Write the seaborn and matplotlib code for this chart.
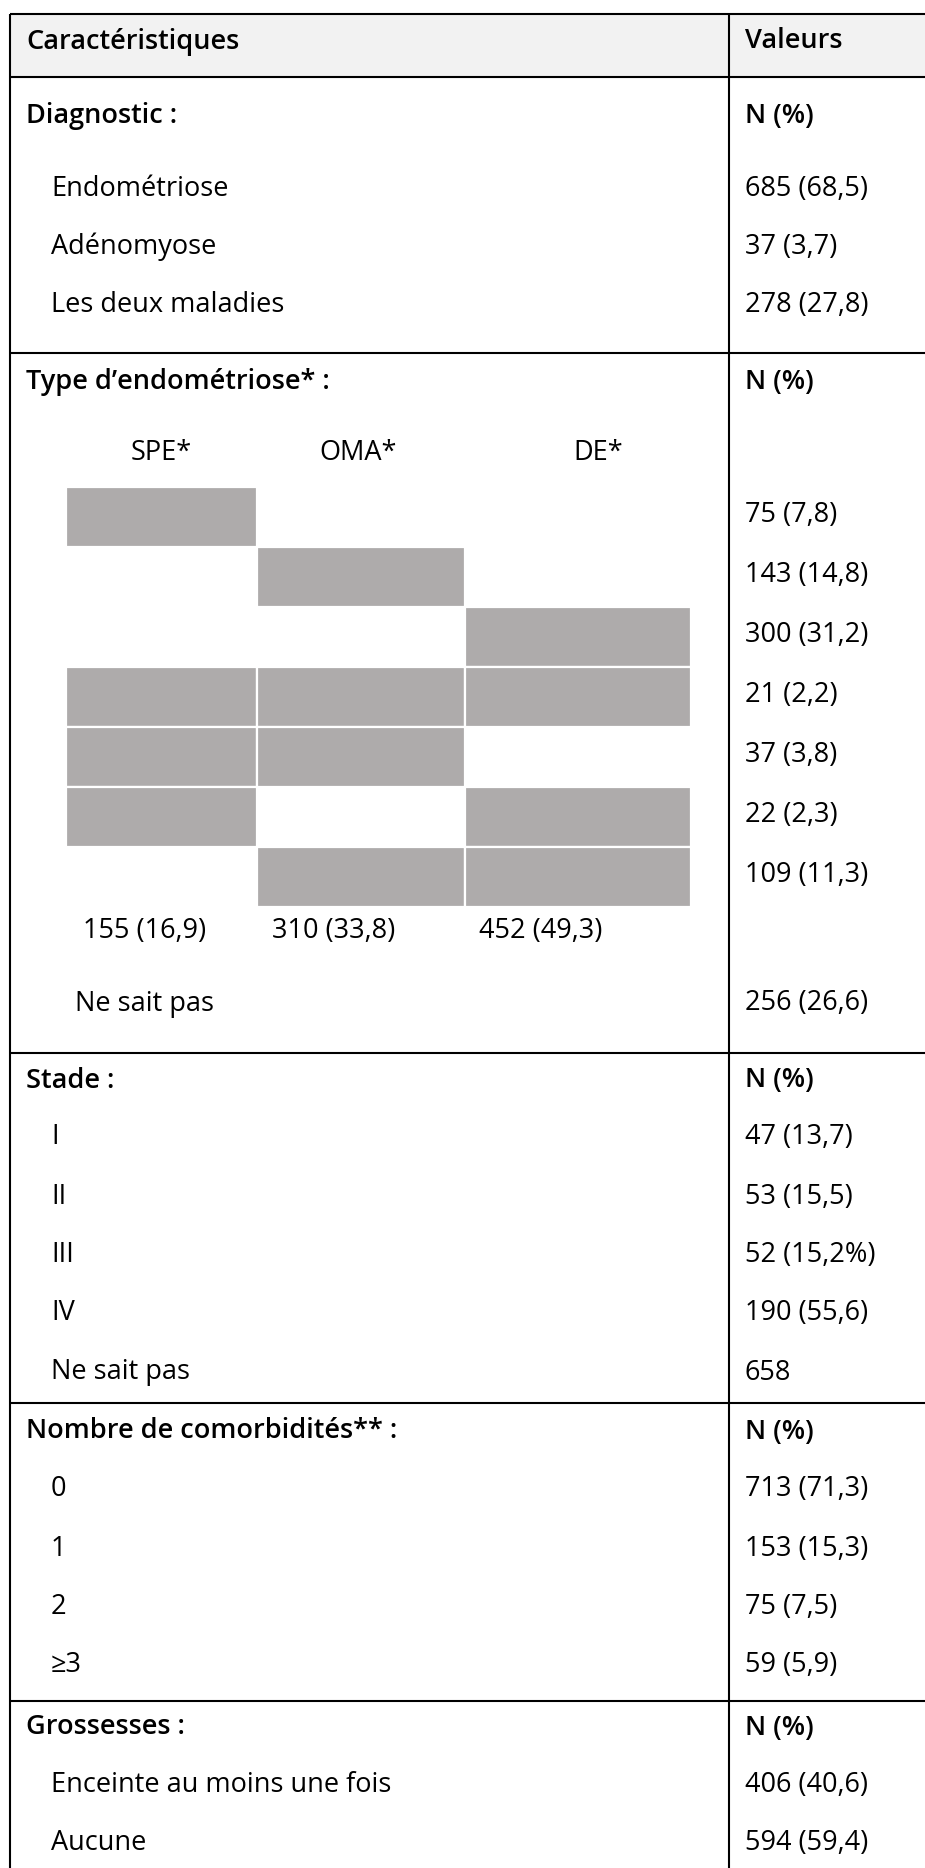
import matplotlib
matplotlib.use("Agg")
import matplotlib.pyplot as plt
import seaborn as sns
import numpy as np

# ---------------- data ----------------
header_left = "Caractéristiques"
header_right = "Valeurs"
unit_label = "N (%)"

diag_title = "Diagnostic :"
diag_labels = ["Endométriose", "Adénomyose", "Les deux maladies"]
diag_values = ["685 (68,5)", "37 (3,7)", "278 (27,8)"]

type_title = "Type d\u2019endométriose* :"
type_names = ["SPE*", "OMA*", "DE*"]
# membership of each combination row (SPE, OMA, DE)
combo_membership = [
    [1, 0, 0],
    [0, 1, 0],
    [0, 0, 1],
    [1, 1, 1],
    [1, 1, 0],
    [1, 0, 1],
    [0, 1, 1],
]
combo_n = [75, 143, 300, 21, 37, 22, 109]
combo_pct = [7.8, 14.8, 31.2, 2.2, 3.8, 2.3, 11.3]
type_total_n = [155, 310, 452]
type_total_pct = [16.9, 33.8, 49.3]
type_unknown_label = "Ne sait pas"
type_unknown_value = "256 (26,6)"

stade_title = "Stade :"
stade_labels = ["I", "II", "III", "IV", "Ne sait pas"]
stade_values = ["47 (13,7)", "53 (15,5)", "52 (15,2%)", "190 (55,6)", "658"]

comorb_title = "Nombre de comorbidités** :"
comorb_labels = ["0", "1", "2", "\u22653"]
comorb_values = ["713 (71,3)", "153 (15,3)", "75 (7,5)", "59 (5,9)"]

preg_title = "Grossesses :"
preg_labels = ["Enceinte au moins une fois", "Aucune"]
preg_values = ["406 (40,6)", "594 (59,4)"]


def fmt(n, p):
    return f"{n} ({p:.1f})".replace(".", ",")


# ---------------- style ----------------
sns.set_theme(style="white")
plt.rcParams["font.family"] = ["Open Sans", "DejaVu Sans"]

W, H = 925, 1868
fig = plt.figure(figsize=(W / 100, H / 100), dpi=100)
ax = fig.add_axes([0, 0, 1, 1])
ax.set_xlim(0, W)
ax.set_ylim(H, 0)
ax.axis("off")

FS = 19.5
TITLE_KW = dict(fontsize=FS, color="black", fontweight="semibold", va="center", ha="left")
BODY_KW = dict(fontsize=FS, color="black", va="center", ha="left")
GREY = "#aeabab"
LINE_KW = dict(color="black", lw=1.5, solid_capstyle="butt")

X_LEFT = 10
X_SEP = 729
X_TITLE = 26
X_ITEM = 51
X_VAL = 745
Y_TOP = 14
Y_HEAD_BOTTOM = 77
DY = 2.5  # baseline correction for text

# header background
ax.axhspan(Y_TOP, Y_HEAD_BOTTOM, xmin=X_LEFT / W, xmax=1, color="#f2f2f2", zorder=0)

# horizontal rules
for y in [Y_TOP, Y_HEAD_BOTTOM, 353, 1053, 1403, 1701]:
    ax.plot([X_LEFT, W], [y, y], **LINE_KW)
# vertical rules
ax.plot([X_LEFT, X_LEFT], [Y_TOP, H], **LINE_KW)
ax.plot([X_SEP, X_SEP], [Y_TOP, H], **LINE_KW)


def title_row(y, label, right=unit_label):
    ax.text(X_TITLE, y + DY, label, **TITLE_KW)
    ax.text(X_VAL, y + DY, right, **TITLE_KW)


def body_rows(labels, values, ys, x=X_ITEM):
    for lab, val, y in zip(labels, values, ys):
        ax.text(x, y + DY, lab, **BODY_KW)
        ax.text(X_VAL, y + DY, val, **BODY_KW)


# header
title_row(39, header_left, header_right)

# Diagnostic
title_row(114, diag_title)
body_rows(diag_labels, diag_values, [186, 244, 303])

# Type d'endométriose
title_row(379, type_title)
col_edges = [66, 257, 465, 691]
name_x = [161, 358, 598]
for name, x in zip(type_names, name_x):
    ax.text(x, 451 + DY, name, fontsize=FS, color="black", va="center", ha="center")

row0, pitch = 517, 60
membership = np.array(combo_membership)
for j in range(len(type_names)):
    left = col_edges[j]
    width = col_edges[j + 1] - col_edges[j]
    ys = [row0 + i * pitch for i in range(len(membership)) if membership[i, j]]
    ax.barh(ys, width, left=left, height=pitch, color=GREY,
            edgecolor="white", linewidth=1.6, zorder=2)
for i, (n, p) in enumerate(zip(combo_n, combo_pct)):
    ax.text(X_VAL, row0 + i * pitch - 1.5, fmt(n, p), **BODY_KW)

total_x = [83, 272, 479]
for n, p, x in zip(type_total_n, type_total_pct, total_x):
    ax.text(x, 929 + DY, fmt(n, p), **BODY_KW)
body_rows([type_unknown_label], [type_unknown_value], [1001], x=75)

# Stade
title_row(1078, stade_title)
body_rows(stade_labels, stade_values, [1135, 1194, 1253, 1311, 1370])

# Comorbidités
title_row(1429, comorb_title)
body_rows(comorb_labels, comorb_values, [1486, 1546, 1604, 1663])

# Grossesses
title_row(1725, preg_title)
body_rows(preg_labels, preg_values, [1782, 1840])

fig.savefig("out.png", dpi=100)
